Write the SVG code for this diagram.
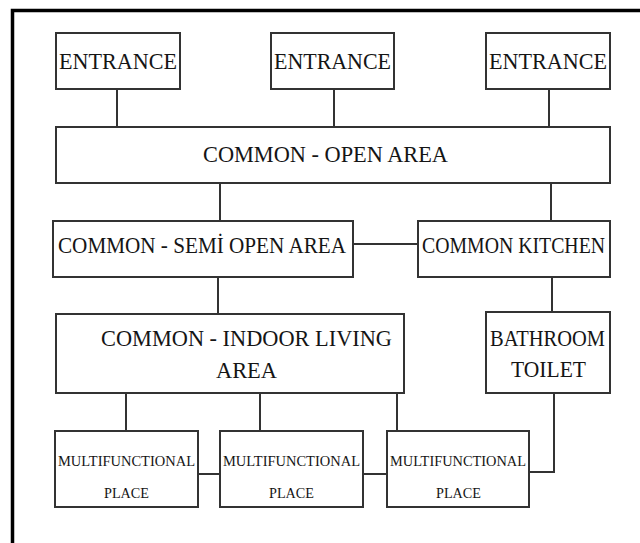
<svg xmlns="http://www.w3.org/2000/svg" width="640" height="543" viewBox="0 0 640 543">
<style>
.box{fill:#fff;stroke:#333;stroke-width:2}
.ln{fill:none;stroke:#333;stroke-width:2}
text{font-family:'Liberation Serif','Times New Roman',serif;fill:#151515}
.t{font-size:24px}
.s{font-size:14px}
</style>
<rect x="0" y="0" width="640" height="543" fill="#fff"/>
<path d="M12.5 545 V10.5 H645" fill="none" stroke="#000" stroke-width="3.5"/>
<g id="connectors">
<path class="ln" d="M117 89 V127"/>
<path class="ln" d="M334 89 V127"/>
<path class="ln" d="M549 89 V127"/>
<path class="ln" d="M220 183 V221"/>
<path class="ln" d="M551 183 V221"/>
<path class="ln" d="M353 244 H418"/>
<path class="ln" d="M218 277 V314"/>
<path class="ln" d="M552 277 V312"/>
<path class="ln" d="M126 393 V431"/>
<path class="ln" d="M260 393 V431"/>
<path class="ln" d="M397 393 V431"/>
<path class="ln" d="M198 474 H220"/>
<path class="ln" d="M363 474 H387"/>
<path class="ln" d="M554 393 V472 H529"/>
</g>
<g id="entrance1"><rect class="box" x="56" y="33" width="124" height="56"/><text class="t" x="59" y="69" textLength="118" lengthAdjust="spacingAndGlyphs">ENTRANCE</text></g>
<g id="entrance2"><rect class="box" x="271" y="33" width="123" height="56"/><text class="t" x="274" y="69" textLength="117" lengthAdjust="spacingAndGlyphs">ENTRANCE</text></g>
<g id="entrance3"><rect class="box" x="486" y="33" width="124" height="56"/><text class="t" x="489" y="69" textLength="118" lengthAdjust="spacingAndGlyphs">ENTRANCE</text></g>
<g id="open-area"><rect class="box" x="56" y="127" width="554" height="56"/><text class="t" x="203" y="162" textLength="245" lengthAdjust="spacingAndGlyphs">COMMON - OPEN AREA</text></g>
<g id="semi-open-area"><rect class="box" x="53" y="221" width="300" height="56"/><text class="t" x="58" y="253" textLength="288" lengthAdjust="spacingAndGlyphs">COMMON - SEMİ OPEN AREA</text></g>
<g id="kitchen"><rect class="box" x="418" y="221" width="192" height="56"/><text class="t" x="422" y="253" textLength="183" lengthAdjust="spacingAndGlyphs">COMMON KITCHEN</text></g>
<g id="indoor-living"><rect class="box" x="56" y="314" width="348" height="79"/><text class="t" x="101" y="346" textLength="291" lengthAdjust="spacingAndGlyphs">COMMON - INDOOR LIVING</text><text class="t" x="216" y="378" textLength="61" lengthAdjust="spacingAndGlyphs">AREA</text></g>
<g id="bathroom"><rect class="box" x="486" y="312" width="124" height="81"/><text class="t" x="490" y="346" textLength="115" lengthAdjust="spacingAndGlyphs">BATHROOM</text><text class="t" x="511" y="377" textLength="75" lengthAdjust="spacingAndGlyphs">TOILET</text></g>
<g id="multi1"><rect class="box" x="55" y="431" width="143" height="76"/><text class="s" x="58" y="466" textLength="137" lengthAdjust="spacingAndGlyphs">MULTIFUNCTIONAL</text><text class="s" x="104" y="498" textLength="45" lengthAdjust="spacingAndGlyphs">PLACE</text></g>
<g id="multi2"><rect class="box" x="220" y="431" width="143" height="76"/><text class="s" x="223" y="466" textLength="137" lengthAdjust="spacingAndGlyphs">MULTIFUNCTIONAL</text><text class="s" x="269" y="498" textLength="45" lengthAdjust="spacingAndGlyphs">PLACE</text></g>
<g id="multi3"><rect class="box" x="387" y="431" width="142" height="76"/><text class="s" x="390" y="466" textLength="136" lengthAdjust="spacingAndGlyphs">MULTIFUNCTIONAL</text><text class="s" x="436" y="498" textLength="45" lengthAdjust="spacingAndGlyphs">PLACE</text></g>
</svg>
